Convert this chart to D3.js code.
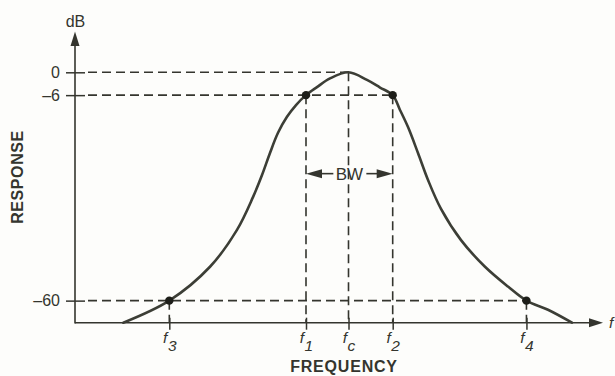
<!DOCTYPE html>
<html>
<head>
<meta charset="utf-8">
<script src="https://cdn.jsdelivr.net/npm/d3@7"></script>
<style>
  html, body { margin: 0; padding: 0; background: #fdfdfb; }
  svg { display: block; font-family: "Liberation Sans", Arial, Helvetica, sans-serif; }
</style>
</head>
<body>
<svg id="chart" width="615" height="376"></svg>
<script>
// ---- data (schematic band-pass response) ----
const curveFreq = [9.15, 17.86, 25.57, 30.68, 33.71, 35.42, 36.93, 38.45, 40.15, 41.86, 43.75, 45.83, 48.3, 51.8,
                   55.3, 57.77, 60.17, 61.55, 63.07, 64.96, 66.86, 69.32, 73.11, 77.65, 82.0, 85.5, 89.58, 94.13];
const curveDb   = [-65.8, -60, -51.1, -41.4, -32.8, -27.0, -21.2, -15.9, -11.7, -8.6, -6, -3.9, -1.6, 0,
                   -2.0, -4.0, -6, -9.9, -14.4, -21.2, -28.3, -35.9, -44.1, -51.1, -56.3, -60, -62.4, -65.8];
const markerSub  = ["3", "1", "c", "2", "4"];
const markerFreq = [17.86, 43.75, 51.8, 60.17, 85.5];
const markerDb   = [-60, -6, 0, -6, -60];
const markerDot  = [true, true, false, true, true];
const yTickValues = [0, -6, -60];
const yTickLabels = ["0", "–6", "–60"];
const yTickEndFreq = [51.8, 60.17, 85.5];   // horizontal dashed guide runs to this frequency
const bwFrom = 43.75, bwTo = 60.17, bwLevel = -26.5;
const xTitle = "FREQUENCY", yTitle = "RESPONSE", yUnit = "dB", xUnit = "f", bwLabel = "BW";

// ---- layout ----
const ink = "#34352e";
const svg = d3.select("#chart");
const x = d3.scaleLinear().domain([0, 100]).range([75, 603]);
const y = d3.scaleLinear().domain([-65.8, 0]).range([322.7, 72.3]);
const x0 = x(0), yBase = y(-65.8);

// dashed guides
const dash = "9,5";
const guides = svg.append("g").attr("stroke", ink).attr("stroke-width", 1.6)
  .attr("stroke-dasharray", dash).attr("fill", "none");
yTickValues.forEach((v, i) => {
  guides.append("line").attr("x1", x0 + 13).attr("x2", x(yTickEndFreq[i]))
    .attr("y1", y(v)).attr("y2", y(v));
});
markerFreq.forEach((f, i) => {
  guides.append("line").attr("x1", x(f)).attr("x2", x(f))
    .attr("y1", y(markerDb[i])).attr("y2", yBase);
});

// axes
const yAxis = d3.axisLeft(y).tickValues(yTickValues)
  .tickFormat((d, i) => yTickLabels[i]).tickSizeInner(9).tickSizeOuter(0).tickPadding(6);
const gy = svg.append("g").attr("transform", `translate(${x0},0)`).call(yAxis);
gy.select(".domain").remove();
gy.selectAll(".tick line").attr("x1", 10).attr("stroke", ink).attr("stroke-width", 1.5);
gy.selectAll(".tick text").attr("fill", ink).style("font-size", "16px")
  .style("font-family", "'Liberation Sans', Arial, sans-serif");

const xAxis = d3.axisBottom(x).tickValues(markerFreq).tickFormat("").tickSizeInner(7).tickSizeOuter(0);
const gx = svg.append("g").attr("transform", `translate(0,${yBase})`).call(xAxis);
gx.select(".domain").remove();
gx.selectAll(".tick line").attr("y1", -5).attr("stroke", ink).attr("stroke-width", 1.5);
gx.selectAll(".tick").each(function(d, i) {
  const t = d3.select(this).append("text").attr("y", 20.5).attr("text-anchor", "middle")
    .attr("fill", ink).style("font-size", "15.5px").style("font-style", "italic")
    .style("font-family", "'Liberation Sans', Arial, sans-serif");
  t.append("tspan").text("f");
  t.append("tspan").attr("dy", 7.5).attr("dx", 0.5).text(markerSub[i]);
});

// axis lines with arrows
svg.append("line").attr("x1", x0).attr("x2", x0).attr("y1", yBase + 0.7).attr("y2", 44)
  .attr("stroke", ink).attr("stroke-width", 1.6);
svg.append("path").attr("d", `M${x0},31.5 L${x0 - 4.5},46 L${x0 + 4.5},46 Z`).attr("fill", ink);
svg.append("line").attr("x1", x0).attr("x2", 592).attr("y1", yBase).attr("y2", yBase)
  .attr("stroke", ink).attr("stroke-width", 1.6);
svg.append("path").attr("d", `M603,${yBase} L589,${yBase - 4.5} L589,${yBase + 4.5} Z`).attr("fill", ink);

// response curve
const line = d3.line().x(d => x(d[0])).y(d => y(d[1])).curve(d3.curveCatmullRom.alpha(0.5));
svg.append("path").datum(d3.zip(curveFreq, curveDb)).attr("d", line)
  .attr("fill", "none").attr("stroke", "#3c3e36").attr("stroke-width", 2.6).attr("stroke-linecap", "round");

// marker dots
svg.append("g").selectAll("circle")
  .data(markerFreq.map((f, i) => [f, markerDb[i], markerDot[i]]).filter(d => d[2]))
  .join("circle").attr("cx", d => x(d[0])).attr("cy", d => y(d[1])).attr("r", 4.2).attr("fill", "#1d1e19");

// BW arrow
const by = y(bwLevel) + 0.5;
const bx1 = x(bwFrom), bx2 = x(bwTo);
const bmid = (bx1 + bx2) / 2;
svg.append("line").attr("x1", bx1 + 10).attr("x2", bmid - 16).attr("y1", by).attr("y2", by)
  .attr("stroke", ink).attr("stroke-width", 1.6);
svg.append("line").attr("x1", bmid + 17).attr("x2", bx2 - 10).attr("y1", by).attr("y2", by)
  .attr("stroke", ink).attr("stroke-width", 1.6);
svg.append("path").attr("d", `M${bx1},${by} L${bx1 + 16},${by - 4.5} L${bx1 + 16},${by + 4.5} Z`).attr("fill", ink);
svg.append("path").attr("d", `M${bx2},${by} L${bx2 - 16},${by - 4.5} L${bx2 - 16},${by + 4.5} Z`).attr("fill", ink);
svg.append("text").attr("x", bmid).attr("y", by + 6.5).attr("text-anchor", "middle")
  .attr("fill", ink).style("font-size", "17px").text(bwLabel);

// titles
svg.append("text").attr("x", x0 + 0.5).attr("y", 26.5).attr("text-anchor", "middle")
  .attr("fill", ink).style("font-size", "16px").text(yUnit);
svg.append("text").attr("x", 609).attr("y", 327.5).attr("fill", ink)
  .style("font-size", "15.5px").style("font-style", "italic").text(xUnit);
svg.append("text").attr("x", 344).attr("y", 372).attr("text-anchor", "middle")
  .attr("fill", ink).style("font-size", "16px").style("font-weight", "bold")
  .style("letter-spacing", "0.8px").text(xTitle);
svg.append("text").attr("transform", "translate(23.3,177) rotate(-90)").attr("text-anchor", "middle")
  .attr("fill", ink).style("font-size", "16px").style("font-weight", "bold")
  .style("letter-spacing", "0.6px").text(yTitle);
</script>
</body>
</html>
